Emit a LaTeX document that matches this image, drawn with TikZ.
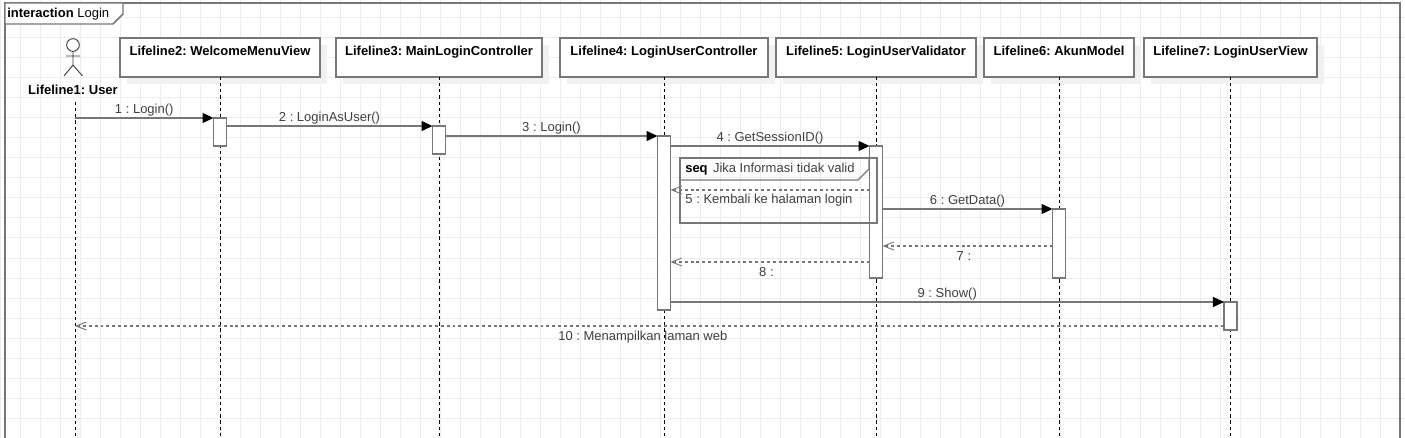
\documentclass[tikz,border=0pt]{standalone}
\usepackage{fontspec}
\setmainfont{Liberation Sans}
\frenchspacing
\usetikzlibrary{positioning, arrows.meta, shadows}
\definecolor{linegray}{HTML}{777777}
\definecolor{gridgray}{HTML}{EDEDED}
\definecolor{shadowgray}{HTML}{F1F1F1}
\definecolor{labelgray}{HTML}{404040}
\tikzset{
    lifebox/.style={draw=linegray, fill=white, line width=1pt, inner sep=0pt, outer sep=0pt,
        text height=13pt, text depth=16.25pt, font=\fontsize{9.75}{12}\selectfont\bfseries, text=black,
        general shadow={fill=shadowgray, shadow xshift=5pt, shadow yshift=-5pt}},
    lifeline/.style={dash pattern=on 2.4pt off 2.2pt, line width=.75pt, black},
    activation/.style={draw=linegray, fill=white, line width=1pt, minimum width=9.75pt, inner sep=0pt, outer sep=0pt, anchor=north},
    msg/.style={draw=linegray, line width=1pt, -{Triangle[length=8.25pt,width=7.5pt,color=black]}},
    ret/.style={draw=linegray, line width=1pt, dash pattern=on 2.2pt off 2.2pt, -{Straight Barb[length=7.5pt,width=6pt,line width=.7pt]}},
    msgtext/.style={yshift=-.8pt},
    rettext/.style={yshift=-1.5pt},
    framing/.style={draw=linegray, line width=1.1pt},
}
\begin{document}
\begin{tikzpicture}[x=.75pt,y=-.75pt,auto,font=\fontsize{9.75}{12}\selectfont,text=labelgray,inner sep=2pt,node distance=150pt]
    \useasboundingbox (0,0) rectangle (1405,438);
    \fill[white] (0,0) rectangle (1405,438);
    \foreach \gx in {0,20,...,1400} \draw[gridgray, line width=.75pt] (\gx,0) -- (\gx,438);
    \foreach \gy in {18,38,...,438} \draw[gridgray, line width=.75pt] (0,\gy) -- (1405,\gy);

    \draw[framing] (5,445) -- (5,3) -- (1400,3) -- (1400,445);
    \draw[framing, fill=white] (5,3) -- (123,3) -- (123,14) -- (113,24) -- (5,24) -- cycle;
    \node[anchor=west, inner sep=0pt, text=black] (frametitle) at (7,14.3) {\textbf{interaction} Login};

    \coordinate (bottom) at (0,438);
    \node[circle, draw=labelgray, line width=.7pt, minimum size=9.5pt, inner sep=0pt, outer sep=0pt] (userhead) at (73,45) {};
    \draw[labelgray, line width=.7pt] (userhead.south) -- (73,65) -- (64,76) (73,65) -- (82.5,76) (66,56) -- (80,56);
    \node[text=black, font=\fontsize{9.75}{12}\selectfont\bfseries] (user) at (73,90) {Lifeline1: User};
    \coordinate (userline) at (75,102);

    \node[lifebox, minimum width=150pt] (welcome) at (220,57.5) {Lifeline2: WelcomeMenuView};
    \node[lifebox, minimum width=154.5pt] (mainctrl) [right of=welcome, node distance=164.25pt] {Lifeline3: MainLoginController};
    \node[lifebox, minimum width=156pt] (userctrl) [right of=mainctrl, node distance=168.75pt] {Lifeline4: LoginUserController};
    \node[lifebox, minimum width=150pt] (validator) [right of=userctrl, node distance=159pt] {Lifeline5: LoginUserValidator};
    \node[lifebox, minimum width=112.5pt] (akun) [right of=validator, node distance=137.25pt] {Lifeline6: AkunModel};
    \node[lifebox, minimum width=129.75pt] (view) [right of=akun, node distance=128.6pt] {Lifeline7: LoginUserView};

    \draw[lifeline] (userline) -- (userline |- bottom);
    \foreach \lname in {welcome,mainctrl,userctrl,validator,akun,view}
        \draw[lifeline] (\lname.south) -- (\lname |- bottom);

    \node[activation, minimum height=21pt] (act2) at (welcome |- 0,118) {};
    \node[activation, minimum height=21pt] (act3) at (mainctrl |- 0,126) {};
    \node[activation, minimum height=130.5pt] (act4) at (userctrl |- 0,136) {};
    \node[activation, minimum height=99pt] (act5) at (validator |- 0,146) {};
    \node[activation, minimum height=51.75pt] (act6) at (akun |- 0,209) {};
    \node[activation, minimum height=21pt] (act7) at (view |- 0,302) {};

    \coordinate (ret5) at (act5.west |- 0,190);
    \coordinate (ret7) at (act6.west |- 0,246);
    \coordinate (ret8) at (act5.west |- 0,262);
    \coordinate (ret10) at (act7.west |- 0,326);

    \path
    (userline |- act2.north) edge [msg] node [msgtext] {1 : Login()} (act2.north west)
    (act2.east |- act3.north) edge [msg] node [msgtext] {2 : LoginAsUser()} (act3.north west)
    (act3.east |- act4.north) edge [msg] node [msgtext] {3 : Login()} (act4.north west)
    (act4.east |- act5.north) edge [msg] node [msgtext] {4 : GetSessionID()} (act5.north west)
    (ret5) edge [ret] node [rettext, xshift=-.8pt, yshift=.7pt] {5 : Kembali ke halaman login} (ret5 -| act4.east)
    (act5.east |- act6.north) edge [msg] node [msgtext] {6 : GetData()} (act6.north west)
    (ret7) edge [ret] node [rettext] {7 :\ \ \ } (ret7 -| act5.east)
    (ret8) edge [ret] node [rettext] {8 :\ \ \ } (ret8 -| act4.east)
    (act4.east |- act7.north) edge [msg] node [msgtext] {9 : Show()} (act7.north west)
    (ret10) edge [ret] node [rettext, xshift=-5pt] {10 : Menampilkan laman web} (ret10 -| userline)
    ;

    \draw[framing, line width=.9pt] (680,158) rectangle (877,223);
    \draw[framing, line width=.9pt] (869,158) -- (869,169) -- (858,180) -- (680,180);
    \node[anchor=west, inner sep=0pt] (seqtitle) at (685,169.3) {\textbf{\textcolor{black}{seq}}\hspace{4pt}Jika Informasi tidak valid};
\end{tikzpicture}
\end{document}
